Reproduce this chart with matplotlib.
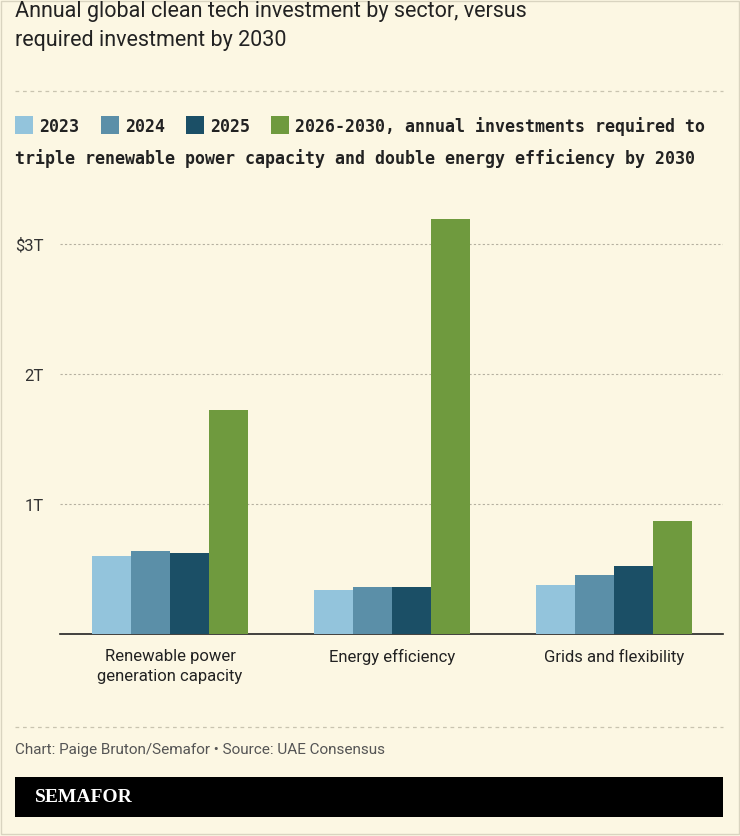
import matplotlib.pyplot as plt
import numpy as np
from matplotlib.patches import Rectangle

sectors = ["Renewable power\ngeneration capacity", "Energy efficiency", "Grids and flexibility"]
series_names = ["2023", "2024", "2025", "2026-2030"]
values_2023 = [0.60, 0.34, 0.38]
values_2024 = [0.64, 0.36, 0.45]
values_2025 = [0.62, 0.36, 0.52]
values_2030 = [1.72, 3.19, 0.87]
y_ticks = [1, 2, 3]
y_labels = ["1T", "2T", "$3T"]

colors = ["#93c4dc", "#5b8fa8", "#1b4f66", "#6f9a3e"]
BG = "#fcf7e3"

fig = plt.figure(figsize=(7.4, 8.37), dpi=100)
fig.patch.set_facecolor(BG)
W, H = 740, 837

def fx(px): return px / W
def fy(py): return 1 - py / H

# border
fig.patches.append(Rectangle((0.002, 0.002), 0.996, 0.996, transform=fig.transFigure,
                             fill=False, edgecolor="#d9d4c0", linewidth=1))

fig.text(fx(15), fy(26), "Annual global clean tech investment by sector, versus\nrequired investment by 2030",
         fontsize=15.5, family="Roboto", color="#222222", va="center", linespacing=1.45)

for yy in (92, 728):
    fig.add_artist(plt.Line2D([fx(15), fx(723)], [fy(yy), fy(yy)], transform=fig.transFigure,
                              color="#c9c4b0", linestyle=(0, (3, 3)), linewidth=0.9))

# legend
leg_items = [(15, "2023"), (101, "2024"), (186, "2025"),
             (271, "2026-2030, annual investments required to")]
for i, (x, lab) in enumerate(leg_items):
    fig.patches.append(Rectangle((fx(x), fy(135)), fx(18), 18 / H, transform=fig.transFigure,
                                 facecolor=colors[i], edgecolor="none"))
    fig.text(fx(x + 24), fy(127), lab, fontsize=12, family="DejaVu Sans Mono",
             color="#222222", va="center", weight="semibold")
fig.text(fx(15), fy(159), "triple renewable power capacity and double energy efficiency by 2030",
         fontsize=12, family="DejaVu Sans Mono", color="#222222", va="center", weight="semibold")

ax = fig.add_axes([fx(60), fy(635), fx(723) - fx(60), (635 - 190) / H])
ax.set_facecolor(BG)
x = np.arange(len(sectors))
width = 0.175
for i, vals in enumerate([values_2023, values_2024, values_2025, values_2030]):
    ax.bar(x + (i - 1.5) * width, vals, width=width, color=colors[i], zorder=3)

ax.set_xlim(-0.495, 2.49)
ax.set_ylim(0, 3.42)
for t in y_ticks:
    ax.axhline(t, color="#b5b0a0", linestyle=(0, (2, 2)), linewidth=0.8, zorder=1)
ax.set_yticks(y_ticks)
ax.set_yticklabels(y_labels, fontsize=12, family="Roboto", color="#333333")
ax.tick_params(axis="y", length=0, pad=12)
ax.set_xticks(x)
ax.set_xticklabels(sectors, fontsize=12, family="Roboto", color="#222222", linespacing=1.4)
ax.tick_params(axis="x", length=0, pad=10)
for s in ["top", "right", "left"]:
    ax.spines[s].set_visible(False)
ax.spines["bottom"].set_color("#222222")
ax.spines["bottom"].set_linewidth(1.2)

fig.text(fx(15), fy(750), "Chart: Paige Bruton/Semafor \u2022 Source: UAE Consensus",
         fontsize=11, family="Roboto", color="#555555", va="center")

fig.patches.append(Rectangle((fx(15), fy(818)), fx(723) - fx(15), 40 / H, transform=fig.transFigure,
                             facecolor="black", edgecolor="none"))
fig.text(fx(35), fy(798), "SEMAFOR", fontsize=14, family="Liberation Serif", weight="bold",
         color="white", va="center")

fig.savefig("out.png", dpi=100, facecolor=BG)
